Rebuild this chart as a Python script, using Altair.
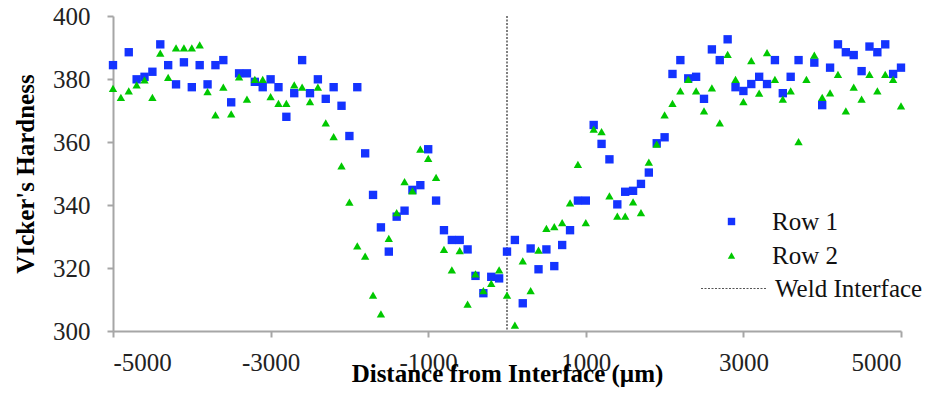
import altair as alt
import pandas as pd

# ---- data ----
row1_x = [-5000, -4800, -4700, -4600, -4500, -4400, -4300, -4200, -4100, -4000,
          -3900, -3800, -3700, -3600, -3500, -3400, -3300, -3200, -3100, -3000,
          -2900, -2800, -2700, -2600, -2500, -2400, -2300, -2200, -2100, -2000,
          -1900, -1800, -1700, -1600, -1500, -1400, -1300, -1200, -1100, -1000,
          -900, -800, -700, -600, -500, -400, -300, -200, -100, 0,
          100, 200, 300, 400, 500, 600, 700, 800, 900, 1000,
          1100, 1200, 1300, 1400, 1500, 1600, 1700, 1800, 1900, 2000,
          2100, 2200, 2300, 2400, 2500, 2600, 2700, 2800, 2900, 3000,
          3100, 3200, 3300, 3400, 3500, 3600, 3700, 3900, 4000,
          4100, 4200, 4300, 4400, 4500, 4600, 4700, 4800, 4900, 5000]
row1_y = [384.4, 388.5, 379.9, 380.7, 382.3, 391.0, 384.4, 378.3, 385.3, 377.4,
          384.4, 378.3, 384.4, 386.0, 372.6, 381.8, 381.8, 379.1, 377.4, 379.9,
          377.4, 368.0, 375.5, 386.0, 375.5, 379.9, 373.7, 377.4, 371.5, 361.9,
          377.4, 356.4, 343.2, 332.9, 325.2, 336.3, 338.2, 344.8, 346.3, 357.7,
          341.4, 332.0, 328.9, 328.9, 325.9, 317.5, 312.0, 317.2, 316.7, 325.2,
          328.9, 308.8, 326.2, 319.6, 325.9, 320.6, 327.3, 332.0, 341.4, 341.4,
          365.4, 359.4, 354.5, 340.2, 344.2, 344.5, 346.7, 350.3, 359.6, 361.5,
          381.6, 386.0, 380.2, 380.7, 373.7, 389.4, 386.0, 392.6, 377.4, 376.2,
          378.4, 380.7, 378.4, 386.0, 375.5, 380.7, 386.0, 385.2, 371.7,
          383.6, 391.0, 388.5, 387.6, 382.5, 390.3, 388.5, 391.0, 381.6, 383.6]

row2_x = [-5000, -4900, -4800, -4700, -4600, -4500, -4400, -4300, -4200, -4100,
          -4000, -3900, -3800, -3700, -3600, -3500, -3400, -3300, -3200, -3100,
          -3000, -2900, -2800, -2700, -2600, -2500, -2400, -2300, -2200, -2100,
          -2000, -1900, -1800, -1700, -1600, -1500, -1400, -1300, -1200, -1100,
          -1000, -900, -800, -700, -600, -500, -400, -300, -200, -100,
          0, 100, 200, 300, 400, 500, 600, 700, 800, 900,
          1000, 1100, 1200, 1300, 1400, 1500, 1600, 1700, 1800, 1900,
          2000, 2100, 2200, 2300, 2400, 2500, 2600, 2700, 2800, 2900,
          3000, 3100, 3200, 3300, 3400, 3500, 3600, 3700, 3800, 3900,
          4000, 4100, 4200, 4300, 4400, 4500, 4600, 4700, 4800, 4900, 5000]
row2_y = [377.0, 374.2, 376.2, 378.1, 379.7, 374.2, 388.2, 380.5, 389.9, 389.9,
          389.9, 390.8, 376.0, 368.6, 377.4, 368.9, 380.7, 373.6, 379.9, 379.9,
          374.4, 372.3, 372.3, 378.1, 377.4, 372.8, 377.4, 366.1, 361.7, 352.4,
          340.9, 327.0, 323.8, 311.4, 305.4, 329.4, 337.6, 347.4, 344.5, 357.7,
          354.8, 348.8, 325.9, 319.4, 325.5, 308.5, 318.1, 312.8, 315.1, 319.4,
          311.4, 301.9, 322.3, 312.8, 325.7, 332.6, 333.1, 334.4, 340.7, 352.9,
          334.4, 364.1, 363.3, 342.9, 336.5, 336.5, 341.0, 337.6, 353.6, 359.3,
          368.6, 372.3, 376.2, 379.9, 376.2, 369.9, 377.2, 366.1, 387.8, 379.9,
          372.8, 385.8, 375.5, 388.4, 379.9, 373.6, 376.2, 360.1, 379.9, 387.6,
          374.2, 375.6, 381.5, 369.9, 377.4, 373.6, 381.5, 376.2, 381.5, 379.9, 371.5]

series_names = ["Row 1", "Row 2"]
series_colors = ["#1433ff", "#00c800"]
series_shapes = ["square", "triangle-up"]
weld_x = [0]
weld_name = ["Weld Interface"]
x_ticks = [-5000, -3000, -1000, 1000, 3000, 5000]
y_ticks = [300, 320, 340, 360, 380, 400]

FONT = "Liberation Serif"

points = pd.DataFrame({
    "x": row1_x + row2_x,
    "y": row1_y + row2_y,
    "series": [series_names[0]] * len(row1_x) + [series_names[1]] * len(row2_x),
    "order": [0] * len(row1_x) + [1] * len(row2_x),
})
weld = pd.DataFrame({"x": weld_x, "name": weld_name})

x_scale = alt.Scale(domain=[-5000, 5000], nice=False, zero=False)
y_scale = alt.Scale(domain=[300, 400], nice=False, zero=False)

rule = alt.Chart(weld).mark_rule(color="#555555", strokeWidth=1.5).encode(
    x=alt.X("x:Q", scale=x_scale),
    strokeDash=alt.StrokeDash(
        "name:N",
        scale=alt.Scale(domain=weld_name, range=[[2, 1.5]]),
        legend=alt.Legend(
            title=None, orient="none", legendX=587, legendY=239,
            symbolType="stroke", symbolSize=4225, symbolStrokeColor="#555555",
            symbolStrokeWidth=1.2, labelOffset=8, padding=0,
            labelFont=FONT, labelFontSize=25, labelColor="#111111",
            labelLimit=300,
        ),
    ),
)

row_legend = alt.Legend(
    title=None, orient="none", legendX=606, legendY=193,
    symbolSize=55, symbolStrokeWidth=0, labelOffset=28,
    padding=0, rowPadding=8,
    labelFont=FONT, labelFontSize=25, labelColor="#111111",
)

pts = alt.Chart(points).mark_point(filled=True, size=70, opacity=1).encode(
    x=alt.X("x:Q", scale=x_scale,
            axis=alt.Axis(values=x_ticks, labelExpr="'' + datum.value",
                          labelPadding=13,
                          title="Distance from Interface (µm)", titleY=50,
                          titleBaseline="alphabetic")),
    y=alt.Y("y:Q", scale=y_scale,
            axis=alt.Axis(values=y_ticks, labelExpr="'' + datum.value",
                          title="VIcker's Hardness", titleX=-80, titleY=157.5,
                          titleBaseline="alphabetic", titleAngle=270)),
    color=alt.Color("series:N",
                    scale=alt.Scale(domain=series_names, range=series_colors),
                    legend=row_legend),
    shape=alt.Shape("series:N",
                    scale=alt.Scale(domain=series_names, range=series_shapes),
                    legend=row_legend),
    order=alt.Order("order:Q"),
)

chart = alt.layer(rule, pts).properties(
    width=788, height=315,
    autosize=alt.AutoSizeParams(type="none"),
    padding={"left": 105, "top": 8, "right": 23, "bottom": 60},
).configure_view(stroke=None).configure_axis(
    grid=False,
    labelFont=FONT, labelFontSize=25, labelColor="#222222", labelPadding=17,
    titleFont=FONT, titleFontSize=25, titleFontWeight="bold", titleColor="#000000",
    domainColor="#a6a6a6", domainWidth=2, tickColor="#a6a6a6", tickWidth=2,
    tickSize=6,
)

chart.save("out.html", embed_options={"renderer": "svg", "actions": False})
